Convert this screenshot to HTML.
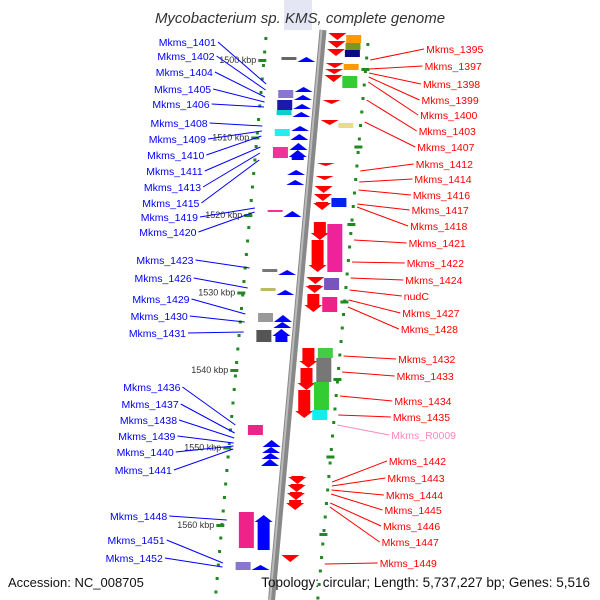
<!DOCTYPE html>
<html><head><meta charset="utf-8"><style>
body{margin:0;background:#fff}
svg{display:block;font-family:"Liberation Sans",sans-serif}
</style></head><body>
<svg id="c" width="600" height="600">
<rect x="0" y="0" width="600" height="600" fill="#fff"/>
<rect x="284" y="0" width="28" height="30" fill="#e4e6f4"/>
<g id="tracks"></g>
<g id="feats"></g>
<g id="labels"></g>
<text x="300" y="23" text-anchor="middle" font-size="15" font-style="italic" fill="#333">Mycobacterium sp. KMS, complete genome</text>
<text x="8" y="587" font-size="13" fill="#111">Accession: NC_008705</text>
<text x="590" y="587" font-size="13.5" text-anchor="end" fill="#111">Topology: circular; Length: 5,737,227 bp; Genes: 5,516</text>
</svg>
<script>
const kbpTicks=[1500,1510,1520,1530,1540,1550,1560];
const featStart=[57,87,95,104,112,126,134,143,150,170,180,211,270,290,315,322,329,440,447,453,459,515,565,
 57,90,100,110,129,147,210,269,288,313,330,425,512,562,
 33,41,49,63,69,75,100,120,163,176,186,194,202,222,240,277,285,294,348,368,390,476,484,492,500,555,
 35,43,50,64,76,123,198,224,278,297,348,358,382,410];
const featEnd=[62,92,100,109,117,131,140,150,160,175,185,217,275,295,322,328,342,447,453,459,466,550,570,
 60,98,110,115,136,158,212,272,291,322,342,435,548,570,
 40,48,56,68,74,82,104,125,166,180,193,201,210,240,272,284,293,312,368,390,418,484,492,500,510,562,
 43,50,57,70,88,128,207,272,290,312,358,382,410,420];
const featSide=[-1,-1,-1,-1,-1,-1,-1,-1,-1,-1,-1,-1,-1,-1,-1,-1,-1,-1,-1,-1,-1,-1,-1,
 -1,-1,-1,-1,-1,-1,-1,-1,-1,-1,-1,-1,-1,-1,
 1,1,1,1,1,1,1,1,1,1,1,1,1,1,1,1,1,1,1,1,1,1,1,1,1,1,
 1,1,1,1,1,1,1,1,1,1,1,1,1,1];
const featLane=[0,0,0,0,0,0,0,0,0,0,0,0,0,0,0,0,0,0,0,0,0,0,0,
 1,1,1,1,1,1,1,1,1,1,1,1,1,1,
 0,0,0,0,0,0,0,0,0,0,0,0,0,0,0,0,0,0,0,0,0,0,0,0,0,0,
 1,1,1,1,1,1,1,1,1,1,1,1,1,1];
const featColor=["#00f","#00f","#00f","#00f","#00f","#00f","#00f","#00f","#00f","#00f","#00f","#00f","#00f","#00f","#00f","#00f","#00f","#00f","#00f","#00f","#00f","#00f","#00f",
 "#666","#8877cc","#1a1aaa","#11cccc","#22eeee","#ee3399","#ee3399","#777","#bbbb66","#999","#555","#ee2288","#ee2288","#8877cc",
 "#f00","#f00","#f00","#f00","#f00","#f00","#f00","#f00","#f00","#f00","#f00","#f00","#f00","#f00","#f00","#f00","#f00","#f00","#f00","#f00","#f00","#f00","#f00","#f00","#f00","#f00",
 "#ff9900","#779922","#0a0a88","#ff9900","#33cc33","#e6dc8c","#0022ee","#ee2299","#7755bb","#ee2288","#44cc44","#777","#33cc33","#11eeee"];
const leftNames=["Mkms_1401","Mkms_1402","Mkms_1404","Mkms_1405","Mkms_1406","Mkms_1408","Mkms_1409","Mkms_1410","Mkms_1411","Mkms_1413","Mkms_1415","Mkms_1419","Mkms_1420","Mkms_1423","Mkms_1426","Mkms_1429","Mkms_1430","Mkms_1431","Mkms_1436","Mkms_1437","Mkms_1438","Mkms_1439","Mkms_1440","Mkms_1441","Mkms_1448","Mkms_1451","Mkms_1452"];
const leftY=[44,58,74,91,106,125,141,157,173,189,205,219,234,262,280,301,318,335,389,406,422,438,454,472,518,542,560];
const leftTarget=[84,90,97,102,107,126,131,136,147,153,160,208,212,268,288,314,322,332,425,433,438,443,446,449,520,563,567];
const rightNames=["Mkms_1395","Mkms_1397","Mkms_1398","Mkms_1399","Mkms_1400","Mkms_1403","Mkms_1407","Mkms_1412","Mkms_1414","Mkms_1416","Mkms_1417","Mkms_1418","Mkms_1421","Mkms_1422","Mkms_1424","nudC","Mkms_1427","Mkms_1428","Mkms_1432","Mkms_1433","Mkms_1434","Mkms_1435","Mkms_R0009","Mkms_1442","Mkms_1443","Mkms_1444","Mkms_1445","Mkms_1446","Mkms_1447","Mkms_1449"];
const rightY=[51,68,86,102,117,133,149,166,181,197,212,228,245,265,282,298,315,331,361,378,403,419,437,463,480,497,512,528,544,565];
const rightTarget=[60,69,73,77,82,100,122,171,182,190,204,207,240,262,278,290,300,307,356,372,396,415,425,482,486,490,494,503,507,564];
const rightColor=rightNames.map(n=>n==="Mkms_R0009"?"#ff88bb":"#f00");

const NS="http://www.w3.org/2000/svg";
function ax(y){return 323-(y-30)*51/565;}
function yOfKbp(k){return 60+(k-1500)*7.75;}
function mk(tag,attrs,parent){const e=document.createElementNS(NS,tag);for(const k in attrs)e.setAttribute(k,attrs[k]);parent.appendChild(e);return e;}
const tracks=document.getElementById('tracks'),feats=document.getElementById('feats'),labels=document.getElementById('labels');

let bb=mk('line',{x1:ax(30),y1:30,x2:ax(600),y2:600,stroke:'#888','stroke-width':7},tracks);


let bb2=mk('line',{x1:ax(30)-1.5,y1:30,x2:ax(600)-1.5,y2:600,stroke:'#bbb','stroke-width':2},tracks);


for(let y=37;y<595;y+=13.5){
  let d1=mk('rect',{x:ax(y)-58,y:y,width:3,height:3,fill:'#228822'},tracks);
  
  
  let d2=mk('rect',{x:ax(y)+44,y:y+6,width:3,height:3,fill:'#228822'},tracks);
  
  
}
kbpTicks.forEach((k,i)=>{
  const y=yOfKbp(k);
  let t=mk('rect',{x:ax(y)-62,y:y-1,width:8,height:3,fill:'#228822'},tracks);
  
  
  let r=mk('rect',{x:ax(y+10)+42,y:y+8,width:8,height:3,fill:'#228822'},tracks);
  
  
  let tx=mk('text',{x:ax(y)-64,y:y+3,'font-size':9,'text-anchor':'end',fill:'#333'},tracks);
  tx.textContent=k+' kbp';
  
  
});
featStart.forEach((s,i)=>{
  const e=featEnd[i],side=featSide[i],lane=featLane[i],col=featColor[i];
  const mid=(s+e)/2,cx=ax(mid);
  let el;
  if(lane===0){
    const w=14,x0=side<0?cx-21:cx+8;
    const h=e-s,head=Math.min(h,7);
    if(side<0){
      el=mk('polygon',{points:`${x0+w/2},${s} ${x0+w+2},${s+head} ${x0+w-1},${s+head} ${x0+w-1},${e} ${x0+1},${e} ${x0+1},${s+head} ${x0-2},${s+head}`,fill:col},feats);
    } else {
      el=mk('polygon',{points:`${x0+1},${s} ${x0+w-1},${s} ${x0+w-1},${e-head} ${x0+w+2},${e-head} ${x0+w/2},${e} ${x0-2},${e-head} ${x0+1},${e-head}`,fill:col},feats);
    }
    
  } else {
    const x0=side<0?cx-39:cx+24;
    el=mk('rect',{x:x0,y:s,width:15,height:e-s,fill:col},feats);
    
  }
  
});
leftNames.forEach((n,i)=>{
  const y=leftY[i],ty=leftTarget[i];
  const rx=216-(y-44)*0.103;
  let l=mk('line',{x1:rx+2,y1:y-2,x2:ax(ty)-52,y2:ty,stroke:'#00f','stroke-width':1},labels);
  
  
  let t=mk('text',{x:rx,y:y+2,'font-size':10.5,'text-anchor':'end',fill:'#00f'},labels);
  t.textContent=n;
  
  
});
rightNames.forEach((n,i)=>{
  const y=rightY[i],ty=rightTarget[i];
  const lx=ax(y)+105;
  let l=mk('line',{x1:ax(ty)+50,y1:ty,x2:lx-2,y2:y-2,stroke:rightColor[i],'stroke-width':1},labels);
  
  
  let t=mk('text',{x:lx,y:y+2,'font-size':10.5,fill:rightColor[i]},labels);
  t.textContent=n;
  
  
});
</script>
</body></html>
